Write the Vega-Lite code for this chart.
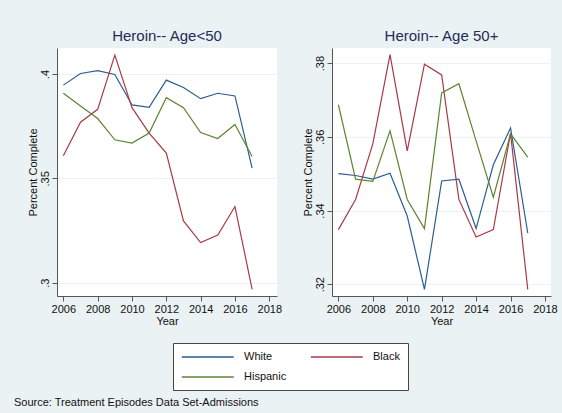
{
  "$schema": "https://vega.github.io/schema/vega-lite/v6.json",
  "background": "#eaf2f3",
  "padding": {"left": 14, "top": 29, "right": 5, "bottom": 5},
  "datasets": {
    "heroin": [
      {"panel": "lt50", "year": 2006, "race": "White", "pct": 0.3947},
      {"panel": "lt50", "year": 2007, "race": "White", "pct": 0.4003},
      {"panel": "lt50", "year": 2008, "race": "White", "pct": 0.4016},
      {"panel": "lt50", "year": 2009, "race": "White", "pct": 0.3998},
      {"panel": "lt50", "year": 2010, "race": "White", "pct": 0.3852},
      {"panel": "lt50", "year": 2011, "race": "White", "pct": 0.3841},
      {"panel": "lt50", "year": 2012, "race": "White", "pct": 0.3971},
      {"panel": "lt50", "year": 2013, "race": "White", "pct": 0.3936},
      {"panel": "lt50", "year": 2014, "race": "White", "pct": 0.3882},
      {"panel": "lt50", "year": 2015, "race": "White", "pct": 0.3908},
      {"panel": "lt50", "year": 2016, "race": "White", "pct": 0.3895},
      {"panel": "lt50", "year": 2017, "race": "White", "pct": 0.3549},
      {"panel": "lt50", "year": 2006, "race": "Black", "pct": 0.3608},
      {"panel": "lt50", "year": 2007, "race": "Black", "pct": 0.3769},
      {"panel": "lt50", "year": 2008, "race": "Black", "pct": 0.3831},
      {"panel": "lt50", "year": 2009, "race": "Black", "pct": 0.4091},
      {"panel": "lt50", "year": 2010, "race": "Black", "pct": 0.3839},
      {"panel": "lt50", "year": 2011, "race": "Black", "pct": 0.3717},
      {"panel": "lt50", "year": 2012, "race": "Black", "pct": 0.3621},
      {"panel": "lt50", "year": 2013, "race": "Black", "pct": 0.3296},
      {"panel": "lt50", "year": 2014, "race": "Black", "pct": 0.3192},
      {"panel": "lt50", "year": 2015, "race": "Black", "pct": 0.3228},
      {"panel": "lt50", "year": 2016, "race": "Black", "pct": 0.3365},
      {"panel": "lt50", "year": 2017, "race": "Black", "pct": 0.2968},
      {"panel": "lt50", "year": 2006, "race": "Hispanic", "pct": 0.3908},
      {"panel": "lt50", "year": 2007, "race": "Hispanic", "pct": 0.3847},
      {"panel": "lt50", "year": 2008, "race": "Hispanic", "pct": 0.3787},
      {"panel": "lt50", "year": 2009, "race": "Hispanic", "pct": 0.3685},
      {"panel": "lt50", "year": 2010, "race": "Hispanic", "pct": 0.3669},
      {"panel": "lt50", "year": 2011, "race": "Hispanic", "pct": 0.3717},
      {"panel": "lt50", "year": 2012, "race": "Hispanic", "pct": 0.3887},
      {"panel": "lt50", "year": 2013, "race": "Hispanic", "pct": 0.3839},
      {"panel": "lt50", "year": 2014, "race": "Hispanic", "pct": 0.3720},
      {"panel": "lt50", "year": 2015, "race": "Hispanic", "pct": 0.3691},
      {"panel": "lt50", "year": 2016, "race": "Hispanic", "pct": 0.3758},
      {"panel": "lt50", "year": 2017, "race": "Hispanic", "pct": 0.3605},
      {"panel": "50p", "year": 2006, "race": "White", "pct": 0.3500},
      {"panel": "50p", "year": 2007, "race": "White", "pct": 0.3495},
      {"panel": "50p", "year": 2008, "race": "White", "pct": 0.3485},
      {"panel": "50p", "year": 2009, "race": "White", "pct": 0.3501},
      {"panel": "50p", "year": 2010, "race": "White", "pct": 0.3385},
      {"panel": "50p", "year": 2011, "race": "White", "pct": 0.3186},
      {"panel": "50p", "year": 2012, "race": "White", "pct": 0.3480},
      {"panel": "50p", "year": 2013, "race": "White", "pct": 0.3485},
      {"panel": "50p", "year": 2014, "race": "White", "pct": 0.3351},
      {"panel": "50p", "year": 2015, "race": "White", "pct": 0.3524},
      {"panel": "50p", "year": 2016, "race": "White", "pct": 0.3624},
      {"panel": "50p", "year": 2017, "race": "White", "pct": 0.3339},
      {"panel": "50p", "year": 2006, "race": "Black", "pct": 0.3348},
      {"panel": "50p", "year": 2007, "race": "Black", "pct": 0.3430},
      {"panel": "50p", "year": 2008, "race": "Black", "pct": 0.3581},
      {"panel": "50p", "year": 2009, "race": "Black", "pct": 0.3823},
      {"panel": "50p", "year": 2010, "race": "Black", "pct": 0.3562},
      {"panel": "50p", "year": 2011, "race": "Black", "pct": 0.3797},
      {"panel": "50p", "year": 2012, "race": "Black", "pct": 0.3768},
      {"panel": "50p", "year": 2013, "race": "Black", "pct": 0.3430},
      {"panel": "50p", "year": 2014, "race": "Black", "pct": 0.3328},
      {"panel": "50p", "year": 2015, "race": "Black", "pct": 0.3348},
      {"panel": "50p", "year": 2016, "race": "Black", "pct": 0.3610},
      {"panel": "50p", "year": 2017, "race": "Black", "pct": 0.3186},
      {"panel": "50p", "year": 2006, "race": "Hispanic", "pct": 0.3687},
      {"panel": "50p", "year": 2007, "race": "Hispanic", "pct": 0.3485},
      {"panel": "50p", "year": 2008, "race": "Hispanic", "pct": 0.3479},
      {"panel": "50p", "year": 2009, "race": "Hispanic", "pct": 0.3616},
      {"panel": "50p", "year": 2010, "race": "Hispanic", "pct": 0.3430},
      {"panel": "50p", "year": 2011, "race": "Hispanic", "pct": 0.3351},
      {"panel": "50p", "year": 2012, "race": "Hispanic", "pct": 0.3719},
      {"panel": "50p", "year": 2013, "race": "Hispanic", "pct": 0.3744},
      {"panel": "50p", "year": 2014, "race": "Hispanic", "pct": 0.3589},
      {"panel": "50p", "year": 2015, "race": "Hispanic", "pct": 0.3436},
      {"panel": "50p", "year": 2016, "race": "Hispanic", "pct": 0.3608},
      {"panel": "50p", "year": 2017, "race": "Hispanic", "pct": 0.3545}
    ]
  },
  "data": {"name": "heroin"},
  "title": {
    "text": "Source: Treatment Episodes Data Set-Admissions",
    "orient": "bottom",
    "anchor": "start",
    "frame": "bounds",
    "fontSize": 11,
    "fontWeight": "normal",
    "font": "Liberation Sans",
    "color": "#111111",
    "dx": -13,
    "offset": 6
  },
  "spacing": 20,
  "hconcat": [
    {
      "width": 220,
      "height": 248,
      "title": {"text": "Heroin-- Age<50"},
      "transform": [{"filter": "datum.panel === 'lt50'"}],
      "mark": {"type": "line", "strokeWidth": 1.2, "clip": true},
      "encoding": {
        "x": {
          "field": "year", "type": "quantitative", "title": "Year",
          "scale": {"domain": [2005.63, 2018.45], "nice": false, "zero": false},
          "axis": {"values": [2006, 2008, 2010, 2012, 2014, 2016, 2018], "format": "d", "grid": false}
        },
        "y": {
          "field": "pct", "type": "quantitative", "title": "Percent Complete",
          "scale": {"domain": [0.2936, 0.4125], "nice": false, "zero": false},
          "axis": {"values": [0.3, 0.35, 0.4], "labelExpr": "replace(toString(datum.value), /^0/, '')", "labelAngle": 270, "labelAlign": "center", "labelBaseline": "bottom"}
        },
        "color": {
          "field": "race", "type": "nominal", "title": null,
          "scale": {"domain": ["White", "Black", "Hispanic"], "range": ["#2b5d91", "#a93a45", "#5e8432"]},
          "legend": {"orient": "none", "legendX": 116, "legendY": 295, "columns": 2, "direction": "horizontal"}
        }
      }
    },
    {
      "width": 219,
      "height": 248,
      "title": {"text": "Heroin-- Age 50+"},
      "transform": [{"filter": "datum.panel === '50p'"}],
      "mark": {"type": "line", "strokeWidth": 1.2, "clip": true},
      "encoding": {
        "x": {
          "field": "year", "type": "quantitative", "title": "Year",
          "scale": {"domain": [2005.63, 2018.35], "nice": false, "zero": false},
          "axis": {"values": [2006, 2008, 2010, 2012, 2014, 2016, 2018], "format": "d", "grid": false}
        },
        "y": {
          "field": "pct", "type": "quantitative", "title": "Percent Complete",
          "scale": {"domain": [0.3168, 0.3841], "nice": false, "zero": false},
          "axis": {"values": [0.32, 0.34, 0.36, 0.38], "labelExpr": "replace(toString(datum.value), /^0/, '')", "labelAngle": 270, "labelAlign": "center", "labelBaseline": "bottom"}
        },
        "color": {
          "field": "race", "type": "nominal", "title": null,
          "scale": {"domain": ["White", "Black", "Hispanic"], "range": ["#2b5d91", "#a93a45", "#5e8432"]},
          "legend": {"orient": "none", "legendX": 116, "legendY": 295, "columns": 2, "direction": "horizontal"}
        }
      }
    }
  ],
  "config": {
    "font": "Liberation Sans",
    "view": {"fill": "white", "stroke": null},
    "title": {"fontSize": 15, "fontWeight": "normal", "color": "#1f2d58", "offset": 4, "anchor": "middle", "font": "Liberation Sans"},
    "axis": {
      "labelFont": "Liberation Sans", "titleFont": "Liberation Sans",
      "labelFontSize": 11, "titleFontSize": 11, "titleFontWeight": "normal",
      "labelColor": "#111111", "titleColor": "#111111",
      "domainColor": "#555555", "tickColor": "#555555", "tickSize": 5,
      "gridColor": "#eaf2f3", "gridWidth": 1.2
    },
    "axisX": {"labelPadding": 2, "titlePadding": 1},
    "axisY": {"labelPadding": 2, "titlePadding": 1},
    "legend": {
      "symbolType": "M-1,0H9", "symbolSize": 108, "symbolStrokeWidth": 1.5,
      "labelFontSize": 11, "labelFont": "Liberation Sans", "labelColor": "#111111",
      "labelOffset": 51, "columnPadding": 20, "rowPadding": 9,
      "strokeColor": "#444444", "fillColor": "white", "padding": 8, "cornerRadius": 0
    }
  }
}
